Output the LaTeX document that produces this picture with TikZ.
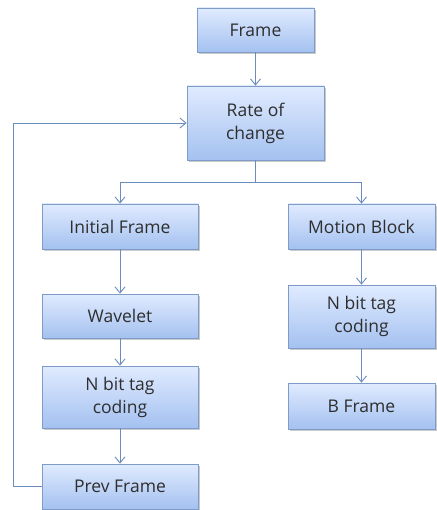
\documentclass[tikz,border=0pt]{standalone}
\usepackage{fontspec}
\setmainfont{Open Sans}
\usetikzlibrary{arrows.meta,shadows,positioning}
\definecolor{boxtop}{HTML}{E0EBFF}
\definecolor{boxbot}{HTML}{A4C1F0}
\definecolor{boxline}{HTML}{7F9CC8}
\definecolor{conn}{HTML}{6A8CBE}
\definecolor{txt}{HTML}{2E2E2E}
\begin{document}
\begin{tikzpicture}[x=1pt,y=-1pt,
  box/.style={draw=boxline, line width=0.8pt, top color=boxtop, bottom color=boxbot,
    text=txt, font=\fontsize{17.5}{23}\selectfont, align=center, inner sep=0pt,
    drop shadow={shadow xshift=1.5pt, shadow yshift=-2pt, opacity=0.35, fill=black!60}},
  conn/.style={draw=conn, line width=0.9pt, -{Straight Barb[length=6pt,width=10pt,line width=0.9pt]}},
  plain/.style={draw=conn, line width=0.9pt}]
\useasboundingbox (0,0) rectangle (436,510);
\node[box, minimum width=117pt, minimum height=44pt] (frame) at (255.5,30) {Frame};
\node[box, minimum width=137pt, minimum height=74pt] (rate) at (255.5,123) {Rate of\\change};
\node[box, minimum width=156pt, minimum height=45pt] (init) at (120,226.5) {Initial Frame};
\node[box, minimum width=147pt, minimum height=45pt] (motion) at (361.5,226.5) {Motion Block};
\node[box, minimum width=156pt, minimum height=44pt] (wave) at (120,316) {Wavelet};
\node[box, minimum width=156pt, minimum height=62pt] (nbl) at (120,397) {N bit tag\\coding};
\node[box, minimum width=156pt, minimum height=45pt] (prev) at (120,486.5) {Prev Frame};
\node[box, minimum width=147pt, minimum height=63pt] (nbr) at (361.5,316.5) {N bit tag\\coding};
\node[box, minimum width=147pt, minimum height=46pt] (bf) at (361.5,406) {B Frame};
\coordinate (split) at (255.5,182);
\coordinate (loopb) at (13,486.5);
\coordinate (loopt) at (13,123);
\draw[conn] (frame) -- (rate);
\draw[plain] (rate.south) -- (split);
\draw[conn] (split) -| (init.north);
\draw[conn] (split) -| (motion.north);
\draw[conn] (init) -- (wave);
\draw[conn] (wave) -- (nbl);
\draw[conn] (nbl) -- (prev);
\draw[conn] (motion) -- (nbr);
\draw[conn] (nbr) -- (bf);
\draw[conn] (prev.west) -- (loopb) -- (loopt) -- (rate.west);
\end{tikzpicture}
\end{document}
